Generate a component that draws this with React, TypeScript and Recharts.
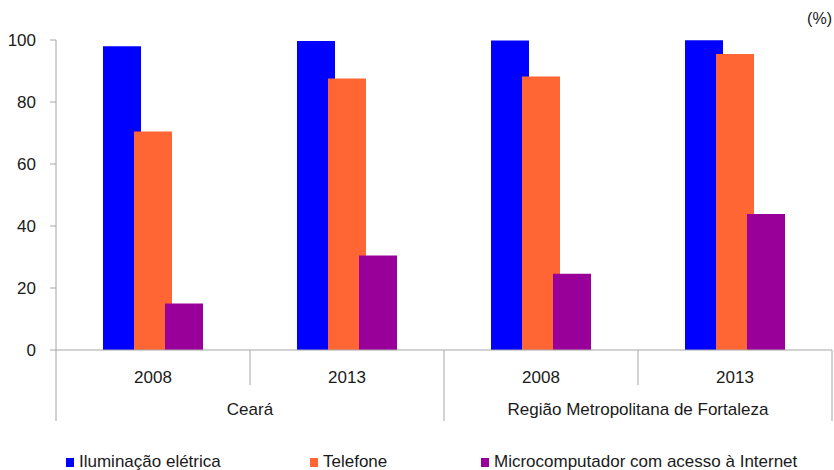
import React from "react";
import { BarChart, Bar, XAxis, YAxis, Legend } from "recharts";

const years = ["2008", "2013", "2008", "2013"];
const regions = ["Ceará", "Ceará", "Região Metropolitana de Fortaleza", "Região Metropolitana de Fortaleza"];
const iluminacao = [98.0, 99.7, 99.8, 99.9];
const telefone = [70.5, 87.6, 88.2, 95.5];
const microcomputador = [15.0, 30.5, 24.6, 43.9];
const yTicks = [0, 20, 40, 60, 80, 100];

const seriesNames = ["Iluminação elétrica", "Telefone", "Microcomputador com acesso à Internet"];
const seriesColors = ["#0000ff", "#ff6633", "#990099"];

const data = years.map((year, i) => ({
  key: `${regions[i]} ${year}`,
  year,
  region: regions[i],
  iluminacao: iluminacao[i],
  telefone: telefone[i],
  micro: microcomputador[i],
}));

const FONT = "'Liberation Sans', Arial, sans-serif";
const W = 834;
const H = 470;
const PLOT_LEFT = 56;
const PLOT_RIGHT = 832;
const BAND = (PLOT_RIGHT - PLOT_LEFT) / years.length;
const AXIS_COLOR = "#a6a6a6";

function CategoryTick(props: any) {
  const { x, y, index } = props;
  const row = data[index];
  const left = x - BAND / 2;
  const right = x + BAND / 2;
  const groupStart = index === 0 || data[index - 1].region !== row.region;
  const last = index === data.length - 1;
  const groupEnd = last || data[index + 1].region !== row.region;
  return (
    <g>
      <text x={x} y={y + 33} textAnchor="middle" fontSize={17} fill="#1a1a1a" fontFamily={FONT}>
        {row.year}
      </text>
      <line x1={left} x2={left} y1={y} y2={groupStart ? y + 71 : y + 35} stroke={AXIS_COLOR} />
      {last && <line x1={right} x2={right} y1={y} y2={y + 71} stroke={AXIS_COLOR} />}
      {groupEnd && (
        <text
          x={(x + (x - BAND * (data.filter((d) => d.region === row.region).length - 1))) / 2}
          y={y + 65}
          textAnchor="middle"
          fontSize={17}
          fill="#1a1a1a"
          fontFamily={FONT}
        >
          {row.region}
        </text>
      )}
    </g>
  );
}

const legendLeft = [66, 310, 481];

function LegendContent() {
  return (
    <div style={{ position: "relative", height: 30, width: W, fontFamily: FONT }}>
      {seriesNames.map((name, i) => (
        <div
          key={name}
          style={{ position: "absolute", left: legendLeft[i], top: 12, display: "flex", alignItems: "center" }}
        >
          <span style={{ width: 8, height: 9, background: seriesColors[i], display: "inline-block", marginRight: 5 }} />
          <span style={{ fontSize: 17, color: "#1a1a1a", lineHeight: "20px" }}>{name}</span>
        </div>
      ))}
    </div>
  );
}

export default function App() {
  return (
    <div style={{ position: "absolute", left: 0, top: 0, width: W, height: H, background: "#fff" }}>
      <BarChart
        width={W}
        height={H}
        data={data}
        margin={{ top: 40, right: W - PLOT_RIGHT, left: 0, bottom: 0 }}
        barSize={38}
        barGap={-7}
      >
        <XAxis
          dataKey="key"
          height={90}
          axisLine={{ stroke: AXIS_COLOR }}
          tickLine={false}
          tickSize={0}
          tickMargin={0}
          interval={0}
          tick={<CategoryTick />}
        />
        <YAxis
          width={PLOT_LEFT}
          domain={[0, 100]}
          ticks={yTicks}
          axisLine={{ stroke: AXIS_COLOR }}
          tickLine={{ stroke: AXIS_COLOR }}
          tickSize={6}
          tickMargin={14}
          tick={{ fontSize: 17, fill: "#1a1a1a", fontFamily: FONT }}
        />
        <Legend verticalAlign="bottom" content={<LegendContent />} />
        <Bar dataKey="iluminacao" name={seriesNames[0]} fill={seriesColors[0]} isAnimationActive={false} />
        <Bar dataKey="telefone" name={seriesNames[1]} fill={seriesColors[1]} isAnimationActive={false} />
        <Bar dataKey="micro" name={seriesNames[2]} fill={seriesColors[2]} isAnimationActive={false} />
        <text x={832} y={24} textAnchor="end" fontSize={16} fill="#1a1a1a" fontFamily={FONT}>
          (%)
        </text>
      </BarChart>
    </div>
  );
}
